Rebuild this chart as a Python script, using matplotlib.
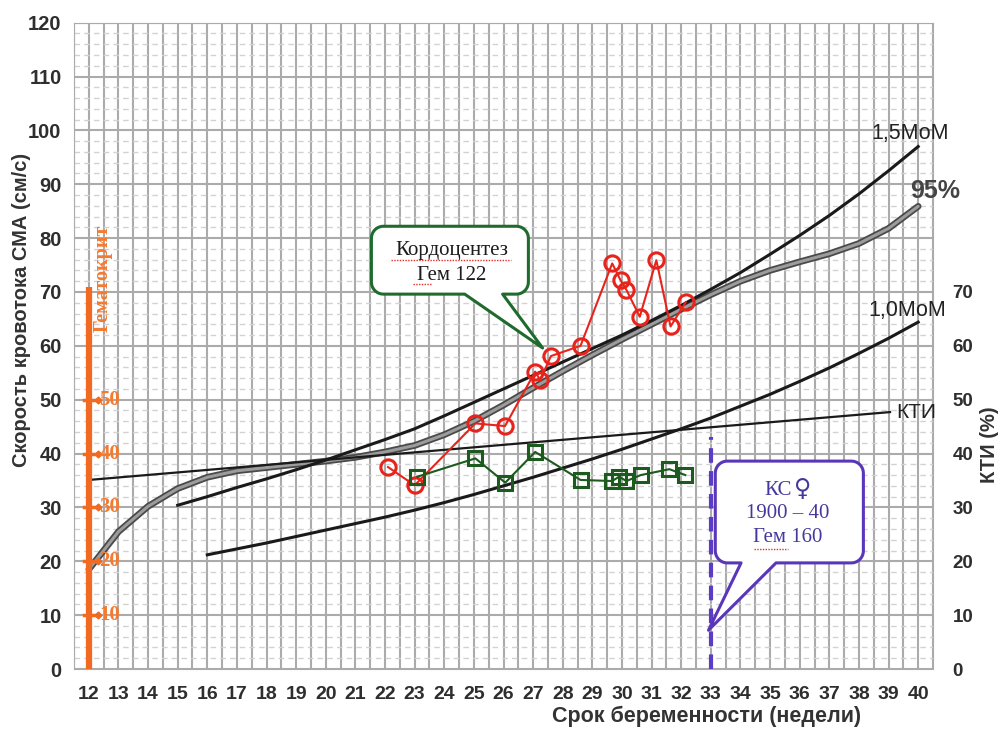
import numpy as np
import matplotlib
matplotlib.use('Agg')
import matplotlib.pyplot as plt
from matplotlib.patches import Polygon

plt.rcParams['font.family'] = ['Liberation Sans', 'DejaVu Sans']
SERIF = ['Liberation Serif', 'DejaVu Serif']

# кривые нормы
weeks_95 = list(range(12, 41))
p95 = [18.5, 25.5, 30.2, 33.5, 35.6, 36.8, 37.4, 38.0, 38.6, 39.3, 40.3, 41.5,
       43.5, 46.0, 49.0, 52.2, 55.3, 58.3, 61.2, 64.0, 66.8, 69.5, 72.0, 74.0,
       75.6, 77.1, 79.0, 81.8, 85.9]
weeks_15 = list(range(15, 41))
mom15 = [30.4, 32.0, 33.7, 35.3, 37.0, 38.8, 40.7, 42.6, 44.6, 47.0, 49.5, 52.0,
         54.5, 57.0, 59.5, 62.0, 64.7, 67.5, 70.5, 73.6, 77.0, 80.5, 84.2, 88.2,
         92.5, 97.0]
weeks_10 = list(range(16, 41))
mom10 = [21.2, 22.3, 23.4, 24.6, 25.8, 27.0, 28.2, 29.5, 30.9, 32.4, 34.0, 35.6,
         37.3, 39.0, 40.8, 42.7, 44.6, 46.6, 48.8, 51.0, 53.4, 55.9, 58.6, 61.4, 64.4]
kti_x = [12, 39.05]
kti_y = [35.1, 47.7]

# данные пациентки
sma_x = [22.1, 23.0, 25.05, 26.05, 27.07, 27.24, 27.6, 28.6, 29.67, 29.95, 30.15,
         30.6, 31.16, 31.64, 32.15]
sma_y = [37.5, 34.1, 45.6, 45.1, 55.2, 53.6, 58.1, 60.0, 75.3, 72.2, 70.4, 65.4,
         75.9, 63.6, 68.1]
kti_px = [23.09, 25.05, 26.06, 27.07, 28.6, 29.67, 29.9, 30.15, 30.63, 31.6, 32.14]
kti_py = [35.7, 39.1, 34.6, 40.3, 35.1, 34.9, 35.7, 34.9, 36.0, 37.1, 36.0]

hct_ticks = [10, 20, 30, 40, 50]
left_ticks = list(range(0, 121, 10))
right_ticks = list(range(0, 71, 10))
x_ticks = list(range(12, 41))

fig = plt.figure(figsize=(10.03, 7.31), dpi=100)
ax = fig.add_axes([0.0738, 0.0848, 0.8564, 0.8842])
ax.set_xlim(11.5, 40.5)
ax.set_ylim(0, 120)

# сетка
for xv in np.arange(11.5, 40.51, 0.5):
    ax.axvline(xv, color='#ababab', lw=1.5, zorder=1)
for yv in range(0, 121, 10):
    ax.axhline(yv, color='#ababab', lw=1.5, zorder=1)
for yv in range(2, 120, 2):
    if yv % 10:
        ax.axhline(yv, color='#d2d2d2', lw=1.0, ls=(0, (4, 3)), zorder=1)
for s in ax.spines.values():
    s.set_color('#ababab')

ax.set_xticks(x_ticks)
ax.set_xticklabels([str(v) for v in x_ticks], fontsize=14, fontweight='bold', color='#2e2e2e')
ax.set_yticks(left_ticks)
ax.set_yticklabels([str(v) for v in left_ticks], fontsize=14.5, fontweight='bold', color='#2e2e2e')
ax.tick_params(axis='both', length=0)
ax.tick_params(axis='x', pad=12)
ax.tick_params(axis='y', pad=9)

ax2 = ax.twinx()
ax2.set_ylim(0, 120)
ax2.set_yticks(right_ticks)
ax2.set_yticklabels([str(v) for v in right_ticks], fontsize=13.5, fontweight='bold', color='#2e2e2e')
ax2.tick_params(axis='y', length=0, pad=14)
for s in ax2.spines.values():
    s.set_visible(False)

# кривые
ax.plot(weeks_95, p95, color='#4a4a4a', lw=4.8, zorder=3, solid_capstyle='round')
ax.plot(weeks_95, p95, color='#9c9c9c', lw=2.2, zorder=3, solid_capstyle='round')
ax.plot(weeks_15, mom15, color='#1a1a1a', lw=2.2, zorder=3)
ax.plot(weeks_10, mom10, color='#1a1a1a', lw=2.2, zorder=3)
ax.plot(kti_x, kti_y, color='#1a1a1a', lw=1.6, zorder=3)

ax.text(39.73, 99.4, '1,5МоМ', fontsize=15.5, color='#222222', ha='center', va='center', zorder=8)
ax.text(40.58, 88.7, '95%', fontsize=18, fontweight='bold', color='#444444', ha='center', va='center', zorder=8, clip_on=False)
ax.text(39.63, 66.6, '1,0МоМ', fontsize=15.5, color='#222222', ha='center', va='center', zorder=8)
ax.text(39.94, 47.7, 'КТИ', fontsize=15, color='#222222', ha='center', va='center', zorder=8)

# гематокрит
orange = '#f26a21'
ax.plot([12, 12], [0, 71], color=orange, lw=4.5, zorder=4, solid_capstyle='butt')
for t in hct_ticks:
    ax.plot([11.83, 12.3], [t, t], color=orange, lw=2.5, zorder=4)
    ax.plot(12.3, t, marker='D', ms=3.5, color=orange, zorder=4)
    ax.text(12.36, t, str(t), fontsize=15, fontweight='bold', color='#f47a30',
            family=SERIF, ha='left', va='center', zorder=5)
ax.text(12.46, 72.5, 'Гематокрит', fontsize=14.5, fontweight='bold', color='#f47a30',
        family=SERIF, rotation=90, ha='center', va='center', zorder=5)

# серии
ax.plot(sma_x, sma_y, color='#e8231c', lw=1.5, marker='o', ms=11, mfc='none',
        mec='#e8231c', mew=2.2, zorder=6)
ax.plot(kti_px, kti_py, color='#1d5a1d', lw=1.5, marker='s', ms=9.5, mfc='none',
        mec='#1d5a1d', mew=2.2, zorder=6)

# КС
ax.plot([33, 33], [0, 43], color='#5b3cc4', lw=3, ls=(0, (3.5, 2)), zorder=5)


def callout(x0, x1, y0, y1, tl, tr, tip, color):
    rx = 12 / 29.64
    ry = 12 / 5.39
    pts = [(tl, y0), tip, (tr, y0)]
    for cx, cy, a0, a1 in [(x1 - rx, y0 + ry, -90, 0), (x1 - rx, y1 - ry, 0, 90),
                           (x0 + rx, y1 - ry, 90, 180), (x0 + rx, y0 + ry, 180, 270)]:
        for a in np.linspace(np.radians(a0), np.radians(a1), 10):
            pts.append((cx + rx * np.cos(a), cy + ry * np.sin(a)))
    poly = Polygon(pts, closed=True, fc='white', ec=color, lw=2.2, zorder=7,
                   joinstyle='round')
    ax.add_patch(poly)


green = '#1f6b2e'
callout(21.54, 26.84, 69.6, 82.2, 24.69, 25.97, (27.32, 59.6), green)
ax.text(24.24, 77.7, 'Кордоцентез', fontsize=15, family=SERIF, color='#1c1c1c',
        ha='center', va='center', zorder=8)
ax.text(24.24, 73.1, 'Гем 122', fontsize=15, family=SERIF, color='#1c1c1c',
        ha='center', va='center', zorder=8)
ax.plot([22.2, 26.25], [75.9, 75.9], color='#e0302a', lw=1, ls=(0, (1, 1)), zorder=8)
ax.plot([22.95, 23.6], [71.5, 71.5], color='#e0302a', lw=1, ls=(0, (1, 1)), zorder=8)

purple = '#5a37b8'
callout(33.15, 38.15, 19.7, 38.6, 34.02, 35.2, (32.92, 7.2), purple)
ptxt = '#45389c'
ax.text(35.73, 33.2, 'КС', fontsize=15, family=SERIF, color=ptxt,
        ha='right', va='center', zorder=8)
ax.text(35.82, 33.4, '♀', fontsize=17, family=['DejaVu Sans'], color=ptxt,
        ha='left', va='center', zorder=8)
ax.text(35.6, 28.9, '1900 – 40', fontsize=15, family=SERIF, color=ptxt,
        ha='center', va='center', zorder=8)
ax.text(35.6, 24.5, 'Гем 160', fontsize=15, family=SERIF, color=ptxt,
        ha='center', va='center', zorder=8)
ax.plot([34.45, 35.6], [22.3, 22.3], color='#e0302a', lw=1, ls=(0, (1, 1)), zorder=8)

# подписи осей
fig.text(22 / 1003, 1 - 310 / 731, 'Скорость кровотока СМА (см/с)', rotation=90,
         fontsize=14.5, fontweight='bold', color='#333333', ha='center', va='center')
fig.text(707 / 1003, 1 - 716 / 731, 'Срок беременности (недели)',
         fontsize=15.5, fontweight='bold', color='#333333', ha='center', va='center')
fig.text(990 / 1003, 1 - 445 / 731, 'КТИ (%)', rotation=90,
         fontsize=14.5, fontweight='bold', color='#333333', ha='center', va='center')

fig.savefig('out.png', dpi=100, facecolor='white')
